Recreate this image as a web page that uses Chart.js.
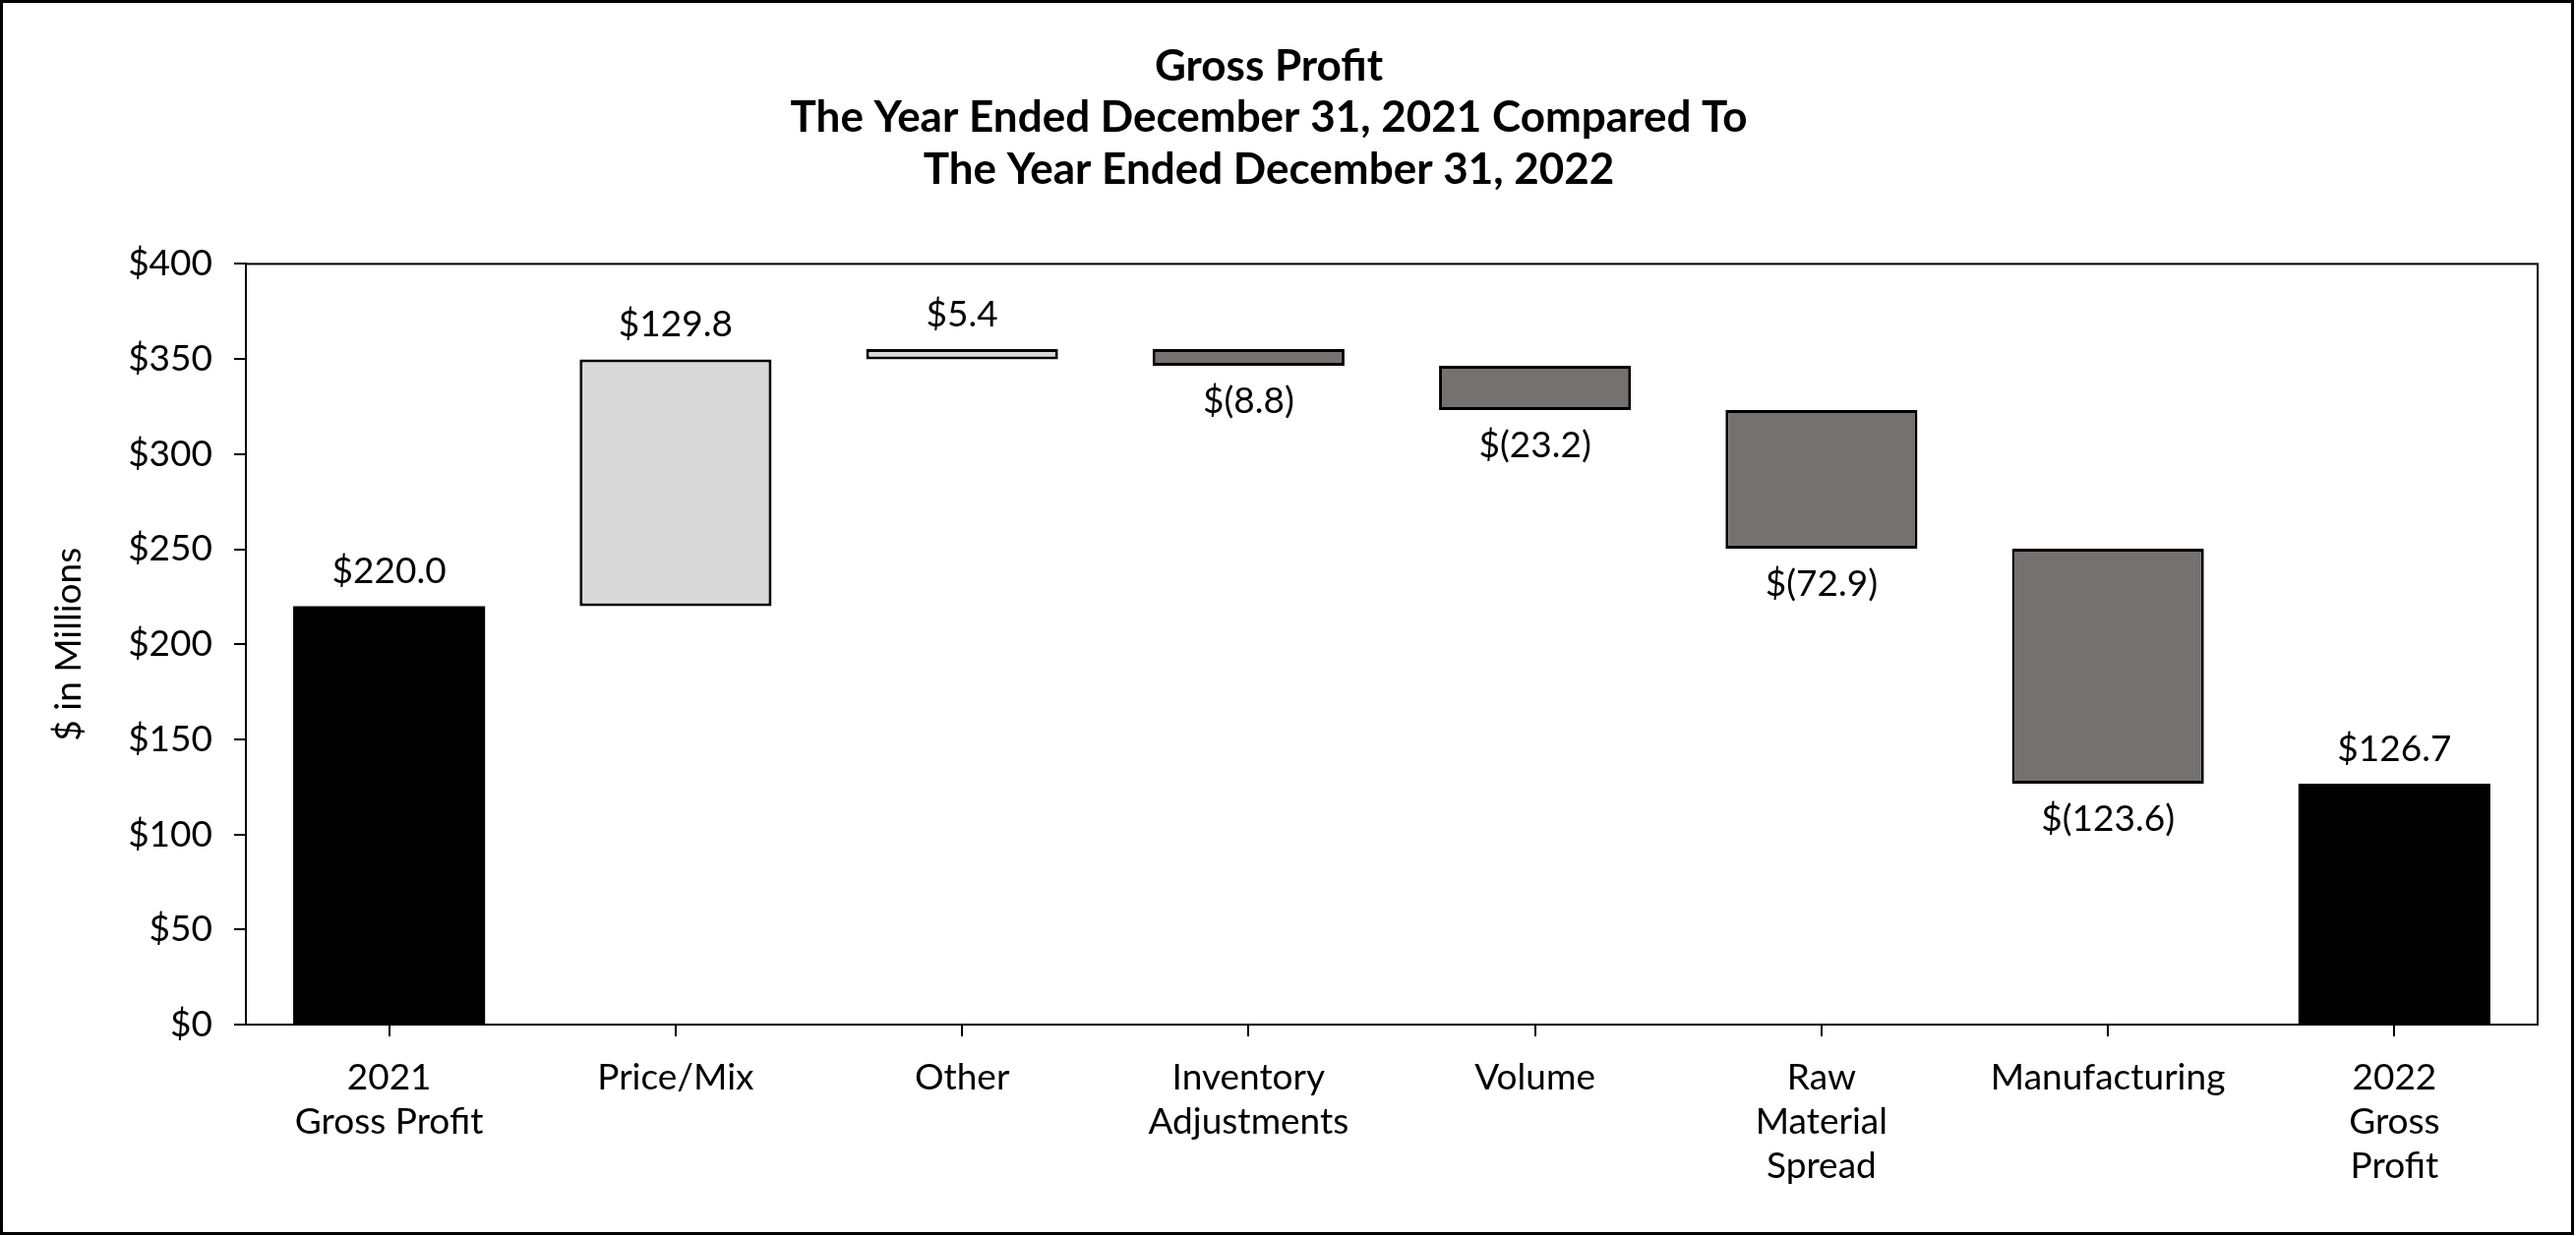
<!DOCTYPE html>
<html>
<head>
<meta charset="utf-8">
<script src="https://cdn.jsdelivr.net/npm/chart.js@4"></script>
<style>
  html, body { margin: 0; padding: 0; background: #fff; }
  #wrap { width: 2619px; height: 1257px; position: relative; }
</style>
</head>
<body>
<div id="wrap"><canvas id="c" width="2619" height="1257"></canvas></div>
<script>
// ---- Data ----
const categories = [
  ["2021", "Gross Profit"],
  "Price/Mix",
  "Other",
  ["Inventory", "Adjustments"],
  "Volume",
  ["Raw", "Material", "Spread"],
  "Manufacturing",
  ["2022", "Gross", "Profit"]
];
const changes = [220.0, 129.8, 5.4, -8.8, -23.2, -72.9, -123.6, 126.7];
const kinds = ["total", "inc", "inc", "dec", "dec", "dec", "dec", "total"];
const yTicks = [0, 50, 100, 150, 200, 250, 300, 350, 400];
const titleLines = [
  "Gross Profit",
  "The Year Ended December 31, 2021 Compared To",
  "The Year Ended December 31, 2022"
];
const yAxisTitle = "$ in Millions";

// ---- Build floating ranges ----
const ranges = [];
let running = 0;
changes.forEach((v, i) => {
  if (kinds[i] === "total") { ranges.push([0, v]); running = v; }
  else { ranges.push([running, running + v]); running += v; }
});
const fillColors = kinds.map(k => k === "total" ? "#000000" : (k === "inc" ? "#d9d9d9" : "#767171"));
const borderWidths = kinds.map(k => k === "total" ? 0 : 3);

function fmt(v) {
  const s = Math.abs(v).toFixed(1);
  return v < 0 ? "$(" + s + ")" : "$" + s;
}

const FONT = "Lato, 'Open Sans', sans-serif";

const labelPlugin = {
  id: "wfLabels",
  afterDatasetsDraw(chart) {
    const ctx = chart.ctx;
    const meta = chart.getDatasetMeta(0);
    ctx.save();
    ctx.font = "37px " + FONT;
    ctx.fillStyle = "#000";
    ctx.textAlign = "center";
    ctx.textBaseline = "middle";
    meta.data.forEach((el, i) => {
      const top = Math.min(el.y, el.base);
      const bottom = Math.max(el.y, el.base);
      if (kinds[i] === "dec") {
        ctx.fillText(fmt(changes[i]), el.x, bottom + 36);
      } else {
        ctx.fillText(fmt(changes[i]), el.x, top - 35);
      }
    });
    ctx.restore();
  }
};

const framePlugin = {
  id: "frame",
  afterDraw(chart) {
    const ctx = chart.ctx;
    const a = chart.chartArea;
    ctx.save();
    ctx.strokeStyle = "#000";
    ctx.lineWidth = 2;
    ctx.strokeRect(a.left, a.top, a.right - a.left, a.bottom - a.top);
    ctx.lineWidth = 3;
    ctx.strokeRect(1.5, 1.5, chart.width - 5, chart.height - 4);
    ctx.restore();
  }
};

new Chart(document.getElementById("c"), {
  type: "bar",
  data: {
    labels: categories,
    datasets: [{
      data: ranges,
      backgroundColor: fillColors,
      borderColor: "#000000",
      borderWidth: borderWidths,
      borderSkipped: false,
      barPercentage: 0.67,
      categoryPercentage: 1.0
    }]
  },
  options: {
    responsive: false,
    animation: false,
    devicePixelRatio: 1,
    layout: { padding: { left: 0, right: 39, top: 0, bottom: 0 } },
    plugins: {
      legend: { display: false },
      tooltip: { enabled: false },
      title: {
        display: true,
        text: titleLines,
        color: "#000",
        font: { family: FONT, size: 44, weight: "bold", lineHeight: 1.2 },
        padding: { top: 41, bottom: 69 }
      }
    },
    scales: {
      x: {
        grid: { display: true, drawOnChartArea: false, drawTicks: true, tickLength: 12, color: "#000", lineWidth: 2, offset: false },
        border: { display: true, color: "#000", width: 2 },
        ticks: { color: "#000", font: { family: FONT, size: 37, lineHeight: 1.22 }, padding: 19, maxRotation: 0, autoSkip: false },
        afterFit(scale) { scale.height = 215; }
      },
      y: {
        min: 0, max: 400,
        afterBuildTicks(scale) { scale.ticks = yTicks.map(v => ({ value: v })); },
        grid: { display: true, drawOnChartArea: false, drawTicks: true, tickLength: 12, color: "#000", lineWidth: 2 },
        border: { display: true, color: "#000", width: 2 },
        ticks: { color: "#000", font: { family: FONT, size: 37 }, padding: 22, callback: v => "$" + v },
        title: { display: true, text: yAxisTitle, color: "#000", font: { family: FONT, size: 37 }, padding: { top: 48, bottom: 0 } },
        afterFit(scale) { scale.width = 250; }
      }
    }
  },
  plugins: [labelPlugin, framePlugin]
});
</script>
</body>
</html>
